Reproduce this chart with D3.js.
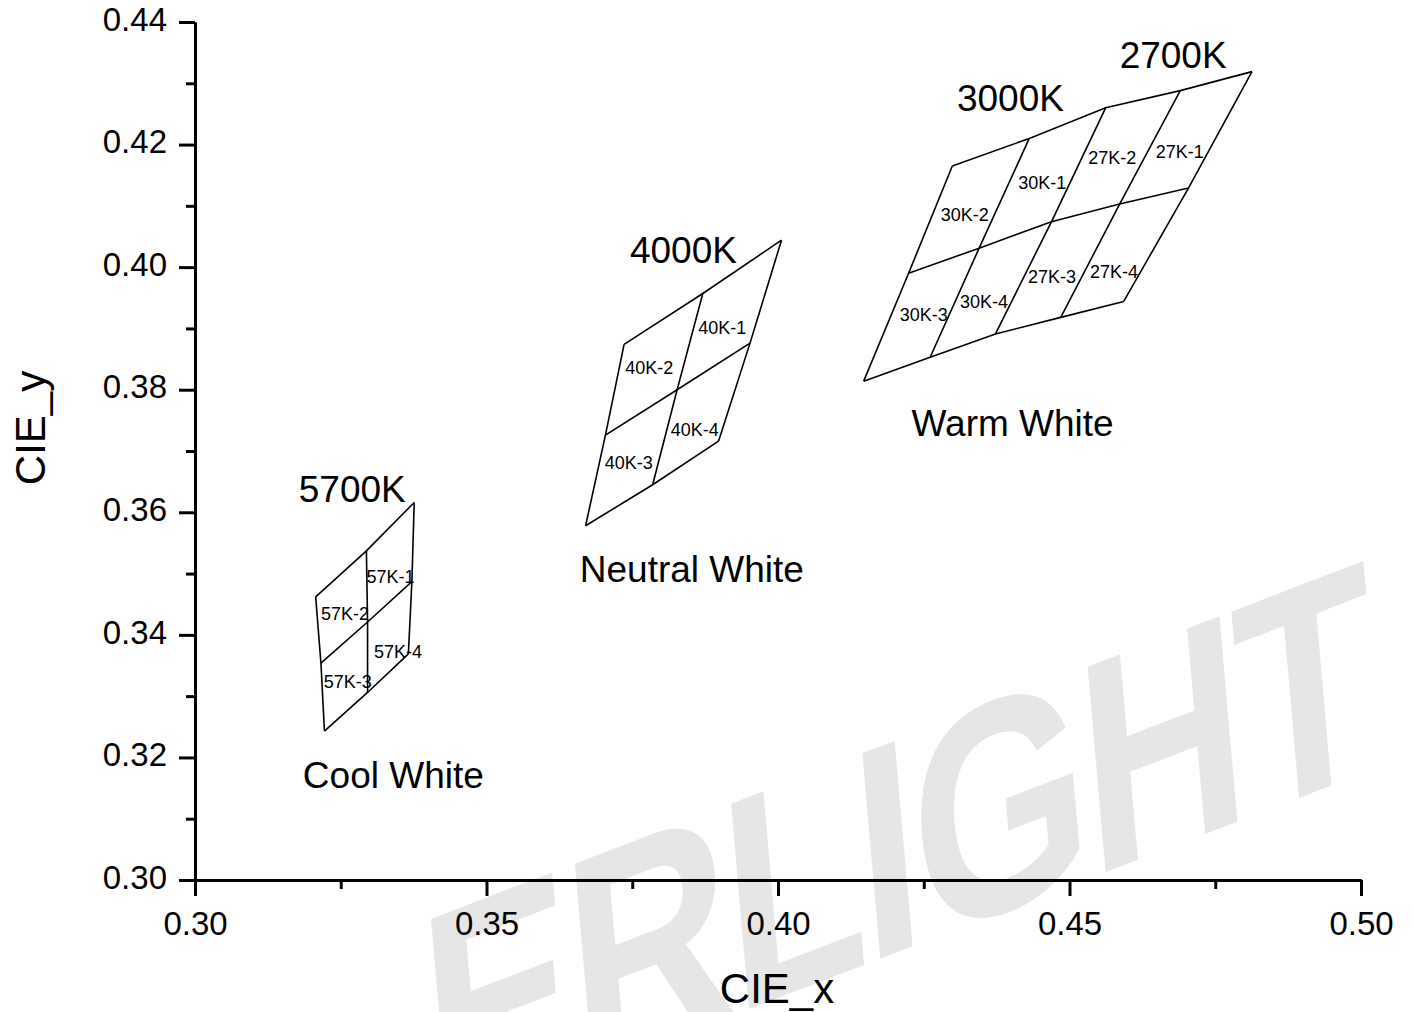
<!DOCTYPE html>
<html>
<head>
<meta charset="utf-8">
<script src="https://cdn.jsdelivr.net/npm/d3@7"></script>
<style>
	body { margin: 0; background: #fff; }
	text { font-family: "Liberation Sans", Arial, sans-serif; fill: #000; }
</style>
</head>
<body>
<div id="chart"></div>
<script>
"use strict";

const width = 1414, height = 1012;

//  Axis ticks
const xMajorTicks = [0.30, 0.35, 0.40, 0.45, 0.50];
const xMinorTicks = [0.325, 0.375, 0.425, 0.475];
const yMajorTicks = [0.30, 0.32, 0.34, 0.36, 0.38, 0.40, 0.42, 0.44];
const yMinorTicks = [0.31, 0.33, 0.35, 0.37, 0.39, 0.41, 0.43];

//  Bin grids (rows top -> bottom, points left -> right), CIE x,y
const grid5700 = [
	[[0.3207, 0.3462], [0.3294, 0.3537], [0.3376, 0.3616]],
	[[0.3216, 0.3354], [0.3296, 0.3421], [0.3372, 0.3487]],
	[[0.3222, 0.3243], [0.3296, 0.3306], [0.3366, 0.3369]]
];
const grid4000 = [
	[[0.3736, 0.3874], [0.3871, 0.3957], [0.4006, 0.4044]],
	[[0.3704, 0.3726], [0.3827, 0.3800], [0.3952, 0.3876]],
	[[0.3670, 0.3578], [0.3785, 0.3645], [0.3898, 0.3716]]
];
const gridWarm = [
	[[0.4299, 0.4165], [0.4431, 0.4210], [0.4562, 0.4260], [0.4690, 0.4288], [0.4813, 0.4319]],
	[[0.4224, 0.3990], [0.4345, 0.4031], [0.4469, 0.4074], [0.4586, 0.4103], [0.4704, 0.4129]],
	[[0.4147, 0.3814], [0.4261, 0.3853], [0.4373, 0.3891], [0.4485, 0.3918], [0.4593, 0.3944]]
];
const grids = [grid5700, grid4000, gridWarm];

//  Bin labels: name, CIE x,y of text start
const binNames = ['57K-1', '57K-2', '57K-3', '57K-4',
	'40K-1', '40K-2', '40K-3', '40K-4',
	'30K-1', '30K-2', '30K-3', '30K-4',
	'27K-1', '27K-2', '27K-3', '27K-4'];
const binX = [0.3294, 0.3216, 0.3221, 0.3307,
	0.3863, 0.3738, 0.3703, 0.3816,
	0.4412, 0.4279, 0.4209, 0.4312,
	0.4648, 0.4532, 0.4429, 0.4535];
const binY = [0.3485, 0.3425, 0.3313, 0.3363,
	0.3891, 0.3826, 0.3670, 0.3725,
	0.4127, 0.4076, 0.3912, 0.3933,
	0.4178, 0.4169, 0.3974, 0.3982];

//  Group labels
const groupNames = ['5700K', 'Cool White', '4000K', 'Neutral White', '3000K', '2700K', 'Warm White'];
const groupX = [0.3178, 0.3185, 0.3746, 0.3660, 0.4307, 0.4586, 0.4229];
const groupY = [0.3617, 0.3150, 0.4006, 0.3487, 0.4254, 0.4325, 0.3725];

let svg = d3.select('#chart').append('svg')
	.attr('width', width)
	.attr('height', height)
	.attr('viewBox', [0, 0, width, height]);

let x = d3.scaleLinear().domain([0.30, 0.50]).range([195, 1361]);
let y = d3.scaleLinear().domain([0.30, 0.44]).range([880, 22]);

//  Watermark
svg.append('text')
	.attr('transform', 'translate(434, 1130) rotate(-21) skewX(-16) scale(1, 1.2)')
	.style('font-size', '240px')
	.style('font-weight', 'bold')
	.style('fill', '#e6e6e6')
	.style('letter-spacing', '-6px')
	.text('ERLIGHT');

//  Bin outlines
let line = d3.line().x(p => x(p[0])).y(p => y(p[1]));

grids.forEach(grid => {
	let rows = grid;
	let cols = grid[0].map((_, i) => grid.map(row => row[i]));
	svg.append('g')
		.selectAll('path')
		.data(rows.concat(cols))
		.join('path')
			.attr('d', line)
			.attr('fill', 'none')
			.attr('stroke', '#000')
			.attr('stroke-width', 1.6);
});

svg.append('g')
	.selectAll('text')
	.data(binNames)
	.join('text')
		.attr('x', (d, i) => x(binX[i]))
		.attr('y', (d, i) => y(binY[i]))
		.style('font-size', '18px')
		.text(d => d);

svg.append('g')
	.selectAll('text')
	.data(groupNames)
	.join('text')
		.attr('x', (d, i) => x(groupX[i]))
		.attr('y', (d, i) => y(groupY[i]))
		.style('font-size', '37px')
		.text(d => d);

//  Axes
function styleAxis(g)
{
	g.selectAll('path, line').attr('stroke', '#000').attr('stroke-width', 3);
	g.selectAll('text').style('font-size', '33px').attr('fill', '#000');
}

svg.append('g')
	.attr('transform', 'translate(0, 880)')
	.call(d3.axisBottom(x).tickValues(xMinorTicks).tickSize(9).tickSizeOuter(0).tickFormat(''))
	.call(styleAxis);
svg.append('g')
	.attr('transform', 'translate(0, 880)')
	.call(d3.axisBottom(x).tickValues(xMajorTicks).tickSize(16).tickSizeOuter(0).tickPadding(16).tickFormat(d3.format('.2f')))
	.call(styleAxis);

svg.append('g')
	.attr('transform', 'translate(195, 0)')
	.call(d3.axisLeft(y).tickValues(yMinorTicks).tickSize(9).tickSizeOuter(0).tickFormat(''))
	.call(styleAxis);
svg.append('g')
	.attr('transform', 'translate(195, 0)')
	.call(d3.axisLeft(y).tickValues(yMajorTicks).tickSize(16).tickSizeOuter(0).tickPadding(12).tickFormat(d3.format('.2f')))
	.call(styleAxis)
	.selectAll('text').attr('dy', '0.25em');

svg.append('text')
	.attr('x', 777)
	.attr('y', 1003)
	.attr('text-anchor', 'middle')
	.style('font-size', '42px')
	.text('CIE_x');

svg.append('text')
	.attr('transform', 'translate(45, 428) rotate(-90)')
	.attr('text-anchor', 'middle')
	.style('font-size', '42px')
	.text('CIE_y');
</script>
</body>
</html>
